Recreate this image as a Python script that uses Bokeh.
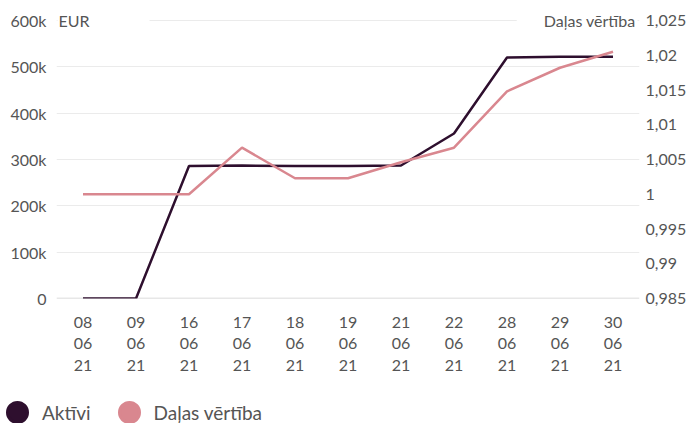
from bokeh.plotting import figure
from bokeh.layouts import column
from bokeh.models import (FactorRange, Range1d, LinearAxis, FixedTicker, Legend,
                          LegendItem, Label, Span)
from bokeh.embed import file_html
from bokeh.resources import INLINE

# ---- data ----
dates = ["08\n06\n21", "09\n06\n21", "16\n06\n21", "17\n06\n21", "18\n06\n21",
         "19\n06\n21", "21\n06\n21", "22\n06\n21", "28\n06\n21", "29\n06\n21",
         "30\n06\n21"]
aktivi = [0, 0, 286000, 287000, 286000, 286000, 287000, 356000, 520000, 522000, 522000]
dalas_vertiba = [1.0, 1.0, 1.0, 1.0067, 1.0023, 1.0023, 1.0046, 1.0067, 1.0148, 1.0182, 1.0205]

left_ticks = [0, 100000, 200000, 300000, 400000, 500000, 600000]
left_labels = ["0", "100k", "200k", "300k", "400k", "500k", "600k"]
right_ticks = [0.985, 0.99, 0.995, 1.0, 1.005, 1.01, 1.015, 1.02, 1.025]
right_labels = ["0,985", "0,99", "0,995", "1", "1,005", "1,01", "1,015", "1,02", "1,025"]

DARK = "#2e0f2e"
PINK = "#d9878f"
TXT = "#555555"
FONT = "Lato"

TOP_PAD = 20 / 278  # room above the top tick for the header texts
p = figure(width=692, height=385, output_backend="svg", toolbar_location=None,
           x_range=FactorRange(factors=dates),
           y_range=Range1d(0, 600000 * (1 + TOP_PAD)),
           min_border_left=56, min_border_right=53, min_border_top=0,
           min_border_bottom=87)
p.frame_align = False
p.outline_line_color = None
p.extra_y_ranges = {"right": Range1d(0.985, 0.985 + 0.04 * (1 + TOP_PAD))}


def style_axis(ax, standoff):
    ax.axis_line_color = None
    ax.major_tick_line_color = None
    ax.minor_tick_line_color = None
    ax.major_tick_out = 0
    ax.major_tick_in = 0
    ax.minor_tick_out = 0
    ax.minor_tick_in = 0
    ax.major_label_standoff = standoff
    ax.major_label_text_font = FONT
    ax.major_label_text_font_size = "16px"
    ax.major_label_text_color = TXT


# left axis
ya = p.yaxis[0]
ya.ticker = FixedTicker(ticks=left_ticks)
ya.major_label_overrides = {t: l for t, l in zip(left_ticks, left_labels)}
style_axis(ya, 10)

# right axis
ra = LinearAxis(y_range_name="right", ticker=FixedTicker(ticks=right_ticks))
ra.major_label_overrides = {t: l for t, l in zip(right_ticks, right_labels)}
style_axis(ra, 6)
p.add_layout(ra, "right")

# x axis
xa = p.xaxis[0]
style_axis(xa, 13)
xa.major_label_text_line_height = 1.15

p.xgrid.grid_line_color = None
p.ygrid.ticker = FixedTicker(ticks=left_ticks[1:])
p.ygrid.grid_line_color = "#ebebeb"
p.ygrid.grid_line_width = 1
p.add_layout(Span(location=0, dimension="width", line_color="#cfcfcf", line_width=1.5,
                  level="underlay"))

# header labels
p.add_layout(Label(x=0, y=600000, x_offset=1, text="EUR", text_baseline="middle",
                   text_font=FONT, text_font_size="16px", text_color=TXT,
                   background_fill_color="white",
                   padding=dict(left=1, right=60, top=4, bottom=4)))
p.add_layout(Label(x=len(dates), y=600000, x_offset=-2, text="Daļas vērtība",
                   text_align="right", text_baseline="middle",
                   text_font=FONT, text_font_size="16px", text_color=TXT,
                   background_fill_color="white",
                   padding=dict(left=27, right=2, top=4, bottom=4)))

# lines
p.line(x=dates, y=aktivi, line_color=DARK, line_width=2.5)
p.line(x=dates, y=dalas_vertiba, y_range_name="right", line_color=PINK, line_width=2.5)

# legend (own strip below the chart)
nan = float("nan")
lg = figure(width=692, height=38, output_backend="svg", toolbar_location=None,
            x_range=Range1d(0, 1), y_range=Range1d(0, 1), min_border=0,
            x_axis_location=None, y_axis_location=None)
lg.frame_align = False
lg.grid.visible = False
lg.outline_line_color = None
r1 = lg.scatter(x=[nan], y=[nan], marker="circle", size=20, fill_color=DARK,
                line_color=DARK, line_width=3)
r2 = lg.scatter(x=[nan], y=[nan], marker="circle", size=20, fill_color=PINK,
                line_color=PINK, line_width=3)
legend = Legend(items=[LegendItem(label="Aktīvi", renderers=[r1]),
                       LegendItem(label="Daļas vērtība", renderers=[r2])],
                location=(-8, -14), orientation="horizontal",
                glyph_width=50, glyph_height=50, label_standoff=-2, spacing=13,
                padding=0, margin=0, border_line_color=None,
                background_fill_alpha=0,
                label_text_font=FONT, label_text_font_size="19px",
                label_text_color=TXT)
lg.add_layout(legend, "center")

open("out.html", "w").write(file_html(column(p, lg), INLINE))
